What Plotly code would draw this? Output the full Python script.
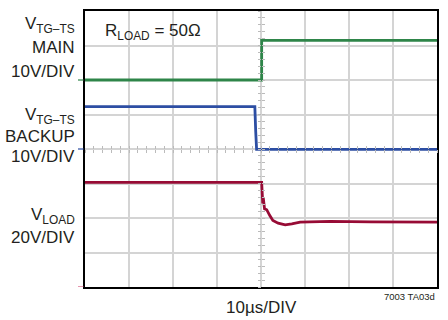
import plotly.graph_objects as go

# time in µs (10 µs/div), amplitude in screen divisions
t_main = [0, 40.15, 40.15, 80]
v_main = [6.0, 6.0, 7.15, 7.15]

t_backup = [0, 38.6, 38.8, 39.0, 80]
v_backup = [5.23, 5.23, 4.5, 3.99, 3.99]

t_load = [0, 20, 40.15, 40.4, 40.5, 40.8, 41.3, 42.0, 42.7, 43.9, 45.5,
          47.0, 48.9, 51.1, 55.7, 65, 80]
v_load = [3.03, 3.04, 3.03, 2.42, 2.60, 2.27, 2.24, 2.07, 1.93, 1.85, 1.80,
          1.83, 1.88, 1.89, 1.90, 1.89, 1.88]

# ground reference markers (divisions) on the left edge
ref_levels = [6.0, 4.0, 0.0]

GREEN = "#2e8549"
BLUE = "#2d4ea3"
RED = "#970b35"
GRID = "#d4d4d4"
FONT = "Liberation Sans Narrow, Arial Narrow, Liberation Sans, sans-serif"

fig = go.Figure()
for t, v, c in [(t_main, v_main, GREEN), (t_backup, v_backup, BLUE), (t_load, v_load, RED)]:
    fig.add_trace(go.Scatter(x=t, y=v, mode="lines", line=dict(color=c, width=2.8),
                             hoverinfo="skip", showlegend=False))

# dummy traces so the center tick axes get drawn
for xa, ya in [("x2", "y"), ("x3", "y"), ("x", "y2"), ("x", "y3")]:
    fig.add_trace(go.Scatter(x=[None], y=[None], xaxis=xa, yaxis=ya, showlegend=False))

for lvl, c in zip(ref_levels, [GREEN, BLUE, "#d4507a"]):
    fig.add_shape(type="line", xref="paper", yref="y", x0=-0.02, x1=-0.004,
                  y0=lvl, y1=lvl, line=dict(color=c, width=1.5), opacity=0.8)

# white box behind the load label
fig.add_shape(type="rect", xref="paper", yref="paper", x0=0, x1=0.35, y0=0.865, y1=1,
              fillcolor="white", line=dict(width=0), layer="between")

axis_common = dict(showgrid=True, gridcolor=GRID, gridwidth=1.5, zeroline=False,
                   showticklabels=False, ticks="", showline=True, linecolor="black",
                   linewidth=2, mirror=True)
tick_common = dict(showgrid=False, zeroline=False, showticklabels=False, showline=False,
                   ticklen=3, tickcolor="#bbbbbb", tickwidth=1)

fig.update_layout(
    width=448, height=320,
    margin=dict(l=85, r=11, t=9, b=33),
    plot_bgcolor="white", paper_bgcolor="white",
    xaxis=dict(range=[0, 80], dtick=10, **axis_common),
    yaxis=dict(range=[0, 8], dtick=1, **axis_common),
    xaxis2=dict(range=[0, 80], dtick=2, overlaying="x", anchor="free", position=0.5,
                ticks="outside", **tick_common),
    xaxis3=dict(range=[0, 80], dtick=2, overlaying="x", anchor="free", position=0.5,
                ticks="inside", **tick_common),
    yaxis2=dict(range=[0, 8], dtick=0.2, overlaying="y", anchor="free", position=0.5,
                ticks="outside", **tick_common),
    yaxis3=dict(range=[0, 8], dtick=0.2, overlaying="y", anchor="free", position=0.5,
                ticks="inside", **tick_common),
    font=dict(family=FONT, color="#231f20"),
)

labels = [
    ("V<sub>TG–TS</sub>", 7.6),
    ("MAIN", 6.95),
    ("10V/DIV", 6.25),
    ("V<sub>TG–TS</sub>", 4.97),
    ("BACKUP", 4.37),
    ("10V/DIV", 3.78),
    ("V<sub>LOAD</sub>", 2.06),
    ("20V/DIV", 1.43),
]
for txt, y in labels:
    fig.add_annotation(text=txt, xref="paper", yref="y", x=-0.022, y=y,
                       xanchor="right", yanchor="middle", showarrow=False,
                       font=dict(size=17))

fig.add_annotation(text="R<sub>LOAD</sub> = 50Ω", xref="paper", yref="paper",
                   x=0.052, y=0.925, xanchor="left", yanchor="middle",
                   showarrow=False, font=dict(size=17))
fig.add_annotation(text="10µs/DIV", xref="paper", yref="paper", x=0.5, y=-0.075,
                   xanchor="center", yanchor="middle", showarrow=False,
                   font=dict(size=17))
fig.add_annotation(text="7003 TA03d", xref="paper", yref="paper", x=1.0, y=-0.035,
                   xanchor="right", yanchor="middle", showarrow=False,
                   font=dict(size=9.5))

fig.write_html("out.html", config={"displayModeBar": False},
               post_script="document.body.style.margin='0';")
